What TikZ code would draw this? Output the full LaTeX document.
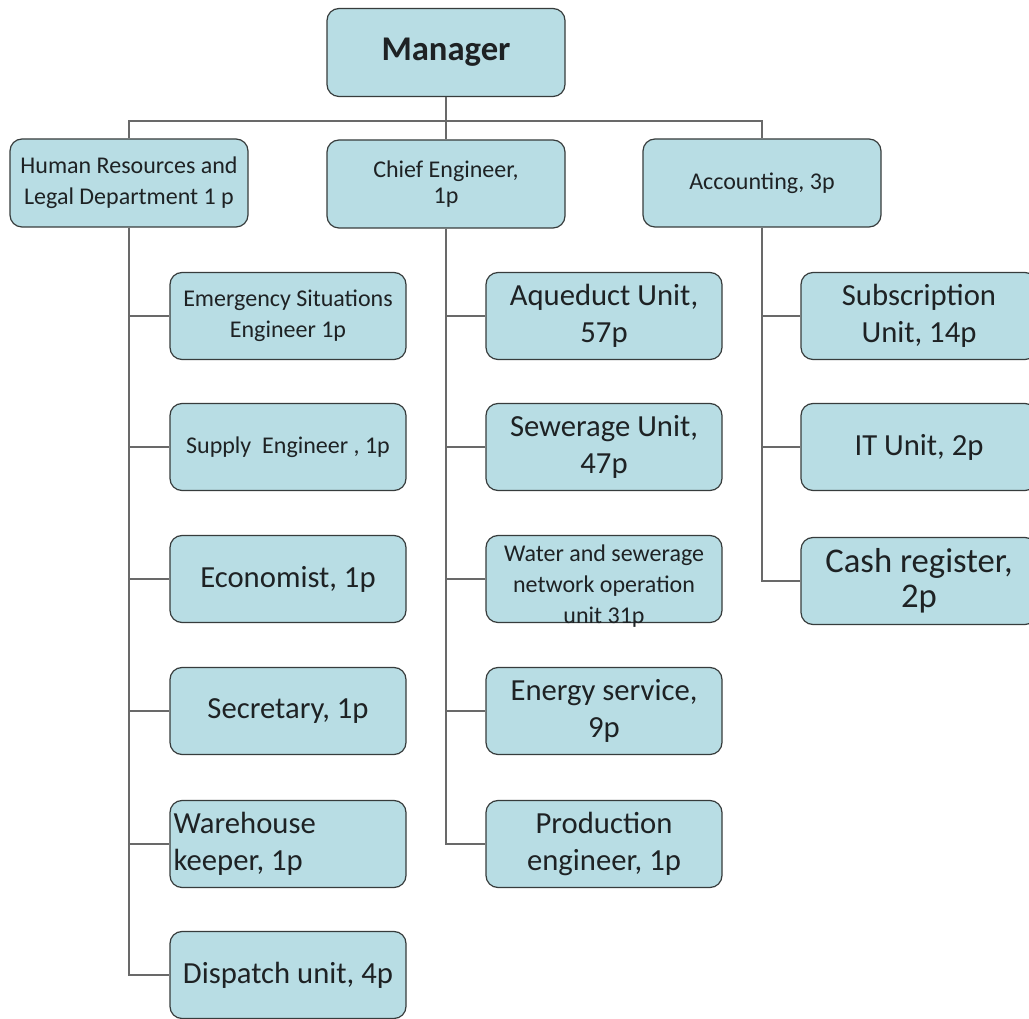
\documentclass[tikz,border=0pt]{standalone}
\usepackage{fontspec}
\setmainfont{Carlito}
\usetikzlibrary{calc}
\definecolor{boxfill}{RGB}{184,221,228}
\definecolor{boxline}{RGB}{55,60,60}
\definecolor{conn}{RGB}{105,105,105}
\definecolor{txt}{RGB}{30,34,36}
\tikzset{
 orgbox/.style={draw=boxline, fill=boxfill, line width=0.9pt, rounded corners=9pt, inner sep=0pt, align=center, text=txt},
 topbox/.style={orgbox, minimum width=178.5pt, minimum height=66pt},
 subbox/.style={orgbox, minimum width=177pt, minimum height=65.25pt},
 smalltxt/.style={font=\fontsize{18}{23.5}\selectfont, text=txt},
 bigtxt/.style={font=\fontsize{23}{27.5}\selectfont, text=txt},
 link/.style={draw=conn, line width=1.3pt},
}
\begin{document}
\begin{tikzpicture}[x=0.75pt, y=-0.75pt]
\useasboundingbox (0,0) rectangle (1029,1019);
\clip (0,0) rectangle (1029,1019);
\fill[white] (0,0) rectangle (1029,1019);
% top level
\node[topbox, font=\fontsize{26}{30}\selectfont\bfseries] (mgr) at (446,52.5) {Manager};
\node[topbox, smalltxt] (hr) at (129,183) {Human Resources and\\Legal Department 1 p};
\node[topbox, font=\fontsize{18}{20}\selectfont] (chief) at (446,184) {Chief Engineer,\\1p};
\node[topbox, smalltxt] (acc) at (762,183) {Accounting, 3p};
% left column
\node[subbox, smalltxt] (emer) at (288,316) {Emergency Situations\\Engineer 1p};
\node[subbox, smalltxt] (supply) at (288,447) {Supply\ \ Engineer , 1p};
\node[subbox, bigtxt] (econ) at (288,579) {Economist, 1p};
\node[subbox, bigtxt] (secr) at (288,711) {Secretary, 1p};
\node[subbox] (ware) at (288,844) {};
\node[bigtxt, anchor=west, align=left, inner sep=0pt] (waretxt) at ($(ware.west)+(4,0)$) {Warehouse\\keeper, 1p};
\node[subbox, bigtxt] (disp) at (288,975) {Dispatch unit, 4p};
% middle column
\node[subbox, bigtxt] (aque) at (604,316) {Aqueduct Unit,\\57p};
\node[subbox, bigtxt] (sewer) at (604,447) {Sewerage Unit,\\47p};
\node[subbox] (water) at (604,579) {};
\node[smalltxt, align=center, inner sep=0pt] (watertxt) at ($(water.center)+(0,7)$) {Water and sewerage\\network operation\\unit 31p};
\node[subbox, bigtxt] (energy) at (604,711) {Energy service,\\9p};
\node[subbox, bigtxt] (prod) at (604,844) {Production\\engineer, 1p};
% right column
\node[subbox, bigtxt] (subs) at (919,316) {Subscription\\Unit, 14p};
\node[subbox, bigtxt] (itu) at (919,447) {IT Unit, 2p};
\node[subbox, font=\fontsize{26}{26.5}\selectfont] (cash) at (919,581) {Cash register,\\2p};
% connectors
\coordinate (bus) at (446,121);
\draw[link] (hr.north) |- (bus) -| (acc.north);
\draw[link] (mgr.south) -- (chief.north);
\foreach \c in {emer,supply,econ,secr,ware,disp} \draw[link] (hr.south) |- (\c.west);
\foreach \c in {aque,sewer,water,energy,prod} \draw[link] (chief.south) |- (\c.west);
\foreach \c in {subs,itu,cash} \draw[link] (acc.south) |- (\c.west);
\end{tikzpicture}
\end{document}
